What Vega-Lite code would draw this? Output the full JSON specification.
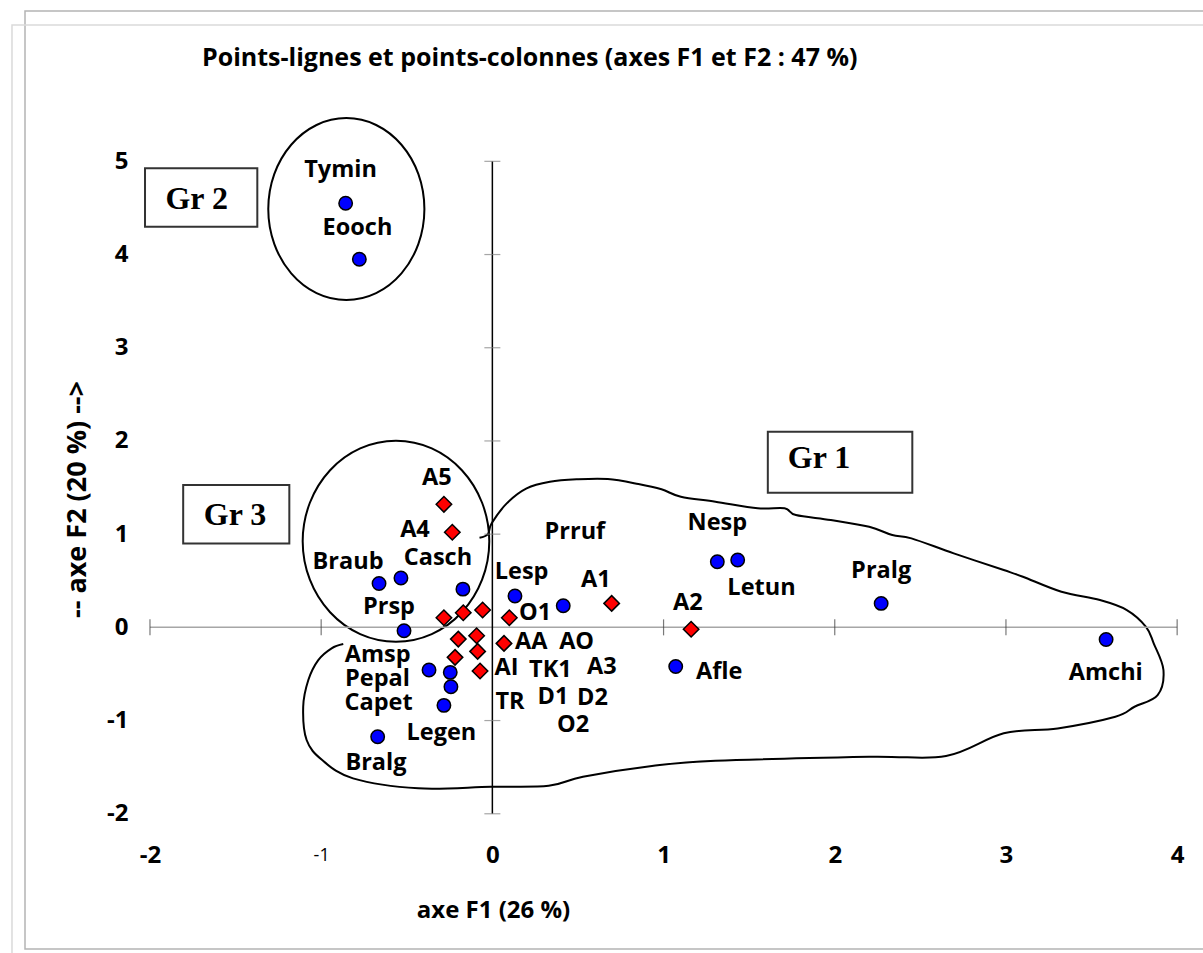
{
  "$schema": "https://vega.github.io/schema/vega-lite/v6.json",
  "width": 1178,
  "height": 938,
  "autosize": "none",
  "padding": {"left": 25, "top": 11, "right": 0, "bottom": 4},
  "background": "white",
  "title": {
    "text": "Points-lignes et points-colonnes (axes F1 et F2 : 47 %)",
    "anchor": "start",
    "frame": "group",
    "font": "Open Sans",
    "fontSize": 25,
    "fontWeight": "bold",
    "color": "black",
    "offset": 0,
    "baseline": "middle",
    "dx": 177,
    "dy": 73
  },
  "config": {"view": {"stroke": null}, "font": "Open Sans"},
  "datasets": {
    "frames": [
      {"f": "A", "x": -2.730, "x2": 4.6, "y": 6.613, "y2": -3.451},
      {"f": "B", "x": -2.806, "x2": 4.6, "y": 6.462, "y2": -4.3}
    ],
    "boxes": [
      {"g": "Gr 2", "x": -2.029, "x2": -1.373, "y": 4.925, "y2": 4.298, "tx": -1.727, "ty": 4.595},
      {"g": "Gr 3", "x": -1.806, "x2": -1.186, "y": 1.527, "y2": 0.901, "tx": -1.503, "ty": 1.204},
      {"g": "Gr 1", "x": 1.609, "x2": 2.453, "y": 2.099, "y2": 1.444, "tx": 1.908, "ty": 1.813}
    ],
    "ellipses": [
      {"grp": "Gr2", "i": 0, "x": -0.397, "y": 4.488},
      {"grp": "Gr2", "i": 1, "x": -0.432, "y": 4.862},
      {"grp": "Gr2", "i": 2, "x": -0.531, "y": 5.178},
      {"grp": "Gr2", "i": 3, "x": -0.679, "y": 5.390},
      {"grp": "Gr2", "i": 4, "x": -0.853, "y": 5.464},
      {"grp": "Gr2", "i": 5, "x": -1.027, "y": 5.390},
      {"grp": "Gr2", "i": 6, "x": -1.175, "y": 5.178},
      {"grp": "Gr2", "i": 7, "x": -1.274, "y": 4.862},
      {"grp": "Gr2", "i": 8, "x": -1.309, "y": 4.488},
      {"grp": "Gr2", "i": 9, "x": -1.274, "y": 4.114},
      {"grp": "Gr2", "i": 10, "x": -1.175, "y": 3.798},
      {"grp": "Gr2", "i": 11, "x": -1.027, "y": 3.586},
      {"grp": "Gr2", "i": 12, "x": -0.853, "y": 3.512},
      {"grp": "Gr2", "i": 13, "x": -0.679, "y": 3.586},
      {"grp": "Gr2", "i": 14, "x": -0.531, "y": 3.798},
      {"grp": "Gr2", "i": 15, "x": -0.432, "y": 4.114},
      {"grp": "Gr3", "i": 0, "x": -0.018, "y": 0.924},
      {"grp": "Gr3", "i": 1, "x": -0.060, "y": 1.337},
      {"grp": "Gr3", "i": 2, "x": -0.178, "y": 1.686},
      {"grp": "Gr3", "i": 3, "x": -0.354, "y": 1.920},
      {"grp": "Gr3", "i": 4, "x": -0.563, "y": 2.002},
      {"grp": "Gr3", "i": 5, "x": -0.772, "y": 1.920},
      {"grp": "Gr3", "i": 6, "x": -0.948, "y": 1.686},
      {"grp": "Gr3", "i": 7, "x": -1.066, "y": 1.337},
      {"grp": "Gr3", "i": 8, "x": -1.108, "y": 0.924},
      {"grp": "Gr3", "i": 9, "x": -1.066, "y": 0.511},
      {"grp": "Gr3", "i": 10, "x": -0.948, "y": 0.162},
      {"grp": "Gr3", "i": 11, "x": -0.772, "y": -0.072},
      {"grp": "Gr3", "i": 12, "x": -0.563, "y": -0.154},
      {"grp": "Gr3", "i": 13, "x": -0.354, "y": -0.072},
      {"grp": "Gr3", "i": 14, "x": -0.178, "y": 0.162},
      {"grp": "Gr3", "i": 15, "x": -0.060, "y": 0.511}
    ],
    "blob": [
      {"i": 0, "x": -0.075, "y": 0.961},
      {"i": 1, "x": -0.026, "y": 1.001},
      {"i": 2, "x": -0.004, "y": 1.116},
      {"i": 3, "x": 0.084, "y": 1.330},
      {"i": 4, "x": 0.200, "y": 1.491},
      {"i": 5, "x": 0.336, "y": 1.562},
      {"i": 6, "x": 0.492, "y": 1.588},
      {"i": 7, "x": 0.674, "y": 1.591},
      {"i": 8, "x": 0.853, "y": 1.538},
      {"i": 9, "x": 0.988, "y": 1.481},
      {"i": 10, "x": 1.101, "y": 1.401},
      {"i": 11, "x": 1.303, "y": 1.348},
      {"i": 12, "x": 1.550, "y": 1.277},
      {"i": 13, "x": 1.707, "y": 1.277},
      {"i": 14, "x": 1.773, "y": 1.205},
      {"i": 15, "x": 1.977, "y": 1.151},
      {"i": 16, "x": 2.201, "y": 1.079},
      {"i": 17, "x": 2.336, "y": 0.990},
      {"i": 18, "x": 2.448, "y": 0.955},
      {"i": 19, "x": 2.695, "y": 0.794},
      {"i": 20, "x": 2.987, "y": 0.615},
      {"i": 21, "x": 3.099, "y": 0.543},
      {"i": 22, "x": 3.324, "y": 0.382},
      {"i": 23, "x": 3.549, "y": 0.293},
      {"i": 24, "x": 3.706, "y": 0.186},
      {"i": 25, "x": 3.818, "y": 0.006},
      {"i": 26, "x": 3.863, "y": -0.172},
      {"i": 27, "x": 3.920, "y": -0.458},
      {"i": 28, "x": 3.886, "y": -0.726},
      {"i": 29, "x": 3.751, "y": -0.852},
      {"i": 30, "x": 3.639, "y": -0.959},
      {"i": 31, "x": 3.302, "y": -1.084},
      {"i": 32, "x": 2.987, "y": -1.137},
      {"i": 33, "x": 2.650, "y": -1.381},
      {"i": 34, "x": 2.201, "y": -1.388},
      {"i": 35, "x": 1.303, "y": -1.431},
      {"i": 36, "x": 0.932, "y": -1.488},
      {"i": 37, "x": 0.529, "y": -1.603},
      {"i": 38, "x": 0.329, "y": -1.700},
      {"i": 39, "x": -0.008, "y": -1.710},
      {"i": 40, "x": -0.433, "y": -1.727},
      {"i": 41, "x": -0.814, "y": -1.620},
      {"i": 42, "x": -0.994, "y": -1.424},
      {"i": 43, "x": -1.085, "y": -1.209},
      {"i": 44, "x": -1.105, "y": -0.852},
      {"i": 45, "x": -1.075, "y": -0.565},
      {"i": 46, "x": -1.017, "y": -0.351},
      {"i": 47, "x": -0.939, "y": -0.225},
      {"i": 48, "x": -0.871, "y": -0.179}
    ],
    "hline": [{"x": -2, "x2": 4, "y": 0}],
    "vline": [{"x": 0, "y": -2, "y2": 5}],
    "xticks": [
      {"x": -2, "y": 0}, {"x": -1, "y": 0}, {"x": 1, "y": 0},
      {"x": 2, "y": 0}, {"x": 3, "y": 0}, {"x": 4, "y": 0}
    ],
    "yticks": [
      {"x": 0, "y": -2}, {"x": 0, "y": -1}, {"x": 0, "y": 1}, {"x": 0, "y": 2},
      {"x": 0, "y": 3}, {"x": 0, "y": 4}, {"x": 0, "y": 5}
    ],
    "pts": [
      {"t": "col", "x": -0.857, "y": 4.55},
      {"t": "col", "x": -0.777, "y": 3.95},
      {"t": "col", "x": -0.662, "y": 0.47},
      {"t": "col", "x": -0.534, "y": 0.53},
      {"t": "col", "x": -0.172, "y": 0.41},
      {"t": "col", "x": 0.132, "y": 0.336},
      {"t": "col", "x": 0.414, "y": 0.232},
      {"t": "col", "x": -0.516, "y": -0.036},
      {"t": "col", "x": -0.370, "y": -0.458},
      {"t": "col", "x": -0.246, "y": -0.483},
      {"t": "col", "x": -0.242, "y": -0.637},
      {"t": "col", "x": -0.283, "y": -0.837},
      {"t": "col", "x": -0.670, "y": -1.174},
      {"t": "col", "x": 1.314, "y": 0.704},
      {"t": "col", "x": 1.433, "y": 0.722},
      {"t": "col", "x": 1.071, "y": -0.42},
      {"t": "col", "x": 2.271, "y": 0.257},
      {"t": "col", "x": 3.585, "y": -0.13},
      {"t": "row", "x": -0.283, "y": 1.32},
      {"t": "row", "x": -0.234, "y": 1.02},
      {"t": "row", "x": -0.283, "y": 0.103},
      {"t": "row", "x": -0.170, "y": 0.157},
      {"t": "row", "x": -0.057, "y": 0.186},
      {"t": "row", "x": 0.099, "y": 0.103},
      {"t": "row", "x": 0.697, "y": 0.257},
      {"t": "row", "x": -0.199, "y": -0.126},
      {"t": "row", "x": -0.092, "y": -0.09},
      {"t": "row", "x": 0.068, "y": -0.172},
      {"t": "row", "x": -0.086, "y": -0.258},
      {"t": "row", "x": -0.218, "y": -0.322},
      {"t": "row", "x": -0.072, "y": -0.469},
      {"t": "row", "x": 1.161, "y": -0.02}
    ],
    "labels": [
      {"label": "Tymin", "x": -0.887, "y": 4.91},
      {"label": "Eooch", "x": -0.788, "y": 4.28},
      {"label": "A5", "x": -0.324, "y": 1.60},
      {"label": "A4", "x": -0.452, "y": 1.044},
      {"label": "Braub", "x": -0.843, "y": 0.697},
      {"label": "Casch", "x": -0.318, "y": 0.74},
      {"label": "Prsp", "x": -0.604, "y": 0.221},
      {"label": "Prruf", "x": 0.482, "y": 1.026},
      {"label": "Lesp", "x": 0.171, "y": 0.597},
      {"label": "A1", "x": 0.605, "y": 0.507},
      {"label": "O1", "x": 0.249, "y": 0.150},
      {"label": "AA", "x": 0.227, "y": -0.154},
      {"label": "AO", "x": 0.492, "y": -0.154},
      {"label": "AI", "x": 0.083, "y": -0.44},
      {"label": "TK1", "x": 0.339, "y": -0.458},
      {"label": "A3", "x": 0.640, "y": -0.422},
      {"label": "TR", "x": 0.103, "y": -0.798},
      {"label": "D1", "x": 0.354, "y": -0.744},
      {"label": "D2", "x": 0.585, "y": -0.762},
      {"label": "O2", "x": 0.471, "y": -1.048},
      {"label": "Amsp", "x": -0.670, "y": -0.297},
      {"label": "Pepal", "x": -0.671, "y": -0.558},
      {"label": "Capet", "x": -0.665, "y": -0.815},
      {"label": "Legen", "x": -0.298, "y": -1.137},
      {"label": "Bralg", "x": -0.680, "y": -1.459},
      {"label": "Nesp", "x": 1.314, "y": 1.116},
      {"label": "Letun", "x": 1.572, "y": 0.418},
      {"label": "A2", "x": 1.142, "y": 0.264},
      {"label": "Pralg", "x": 2.271, "y": 0.604},
      {"label": "Afle", "x": 1.325, "y": -0.476},
      {"label": "Amchi", "x": 3.583, "y": -0.487}
    ]
  },
  "encoding": {
    "x": {
      "field": "x",
      "type": "quantitative",
      "scale": {"domain": [-2.730, 4.151], "nice": false, "zero": false},
      "axis": {
        "values": [-2, -1, 0, 1, 2, 3, 4],
        "domain": false,
        "ticks": false,
        "tickSize": 0,
        "grid": false,
        "labelExpr": "'' + datum.value",
        "labelFont": "Open Sans",
        "labelFontSize": {"condition": {"test": "datum.value == -1", "value": 18}, "value": 24},
        "labelFontWeight": {"condition": {"test": "datum.value == -1", "value": "normal"}, "value": "bold"},
        "labelColor": "black",
        "labelBaseline": "middle",
        "labelPadding": 0,
        "labelFlush": false,
        "labelOverlap": false,
        "offset": -94,
        "title": "axe F1 (26 %)",
        "titleFont": "Open Sans",
        "titleFontSize": 24,
        "titleFontWeight": "bold",
        "titleColor": "black",
        "titleX": 468,
        "titleY": 55,
        "titleBaseline": "middle",
        "titleAlign": "center"
      }
    },
    "y": {
      "field": "y",
      "type": "quantitative",
      "scale": {"domain": [-3.451, 6.613], "nice": false, "zero": false},
      "axis": {
        "values": [-2, -1, 0, 1, 2, 3, 4, 5],
        "domain": false,
        "ticks": false,
        "tickSize": 0,
        "grid": false,
        "labelExpr": "'' + datum.value",
        "labelFont": "Open Sans",
        "labelFontSize": 24,
        "labelFontWeight": "bold",
        "labelColor": "black",
        "labelAlign": "right",
        "labelBaseline": "middle",
        "labelPadding": 2,
        "labelFlush": false,
        "labelOverlap": false,
        "offset": -105,
        "title": "-- axe F2 (20 %) -->",
        "titleFont": "Open Sans",
        "titleFontSize": 27,
        "titleFontWeight": "bold",
        "titleColor": "black",
        "titleX": -53,
        "titleY": 488,
        "titleAngle": 270,
        "titleBaseline": "middle",
        "titleAlign": "center"
      }
    }
  },
  "layer": [
    {
      "data": {"name": "frames"},
      "mark": {"type": "rect", "fill": null, "strokeWidth": 1.5},
      "encoding": {
        "x2": {"field": "x2"},
        "y2": {"field": "y2"},
        "stroke": {"field": "f", "type": "nominal", "scale": {"domain": ["A", "B"], "range": ["#b4b4b4", "#dadada"]}, "legend": null}
      }
    },
    {
      "data": {"name": "ellipses"},
      "mark": {"type": "line", "interpolate": "cardinal-closed", "color": "black", "strokeWidth": 2},
      "encoding": {
        "detail": {"field": "grp"},
        "order": {"field": "i", "type": "quantitative"}
      }
    },
    {
      "data": {"name": "blob"},
      "mark": {"type": "line", "interpolate": "cardinal", "color": "black", "strokeWidth": 2},
      "encoding": {
        "order": {"field": "i", "type": "quantitative"}
      }
    },
    {
      "data": {"name": "hline"},
      "mark": {"type": "rule", "color": "#a6a6a6", "strokeWidth": 1.5},
      "encoding": {"x2": {"field": "x2"}}
    },
    {
      "data": {"name": "vline"},
      "mark": {"type": "rule", "color": "black", "strokeWidth": 1.5},
      "encoding": {"y2": {"field": "y2"}}
    },
    {
      "data": {"name": "xticks"},
      "mark": {"type": "tick", "orient": "vertical", "size": 16, "thickness": 1.2, "color": "#404040"}
    },
    {
      "data": {"name": "yticks"},
      "mark": {"type": "tick", "orient": "horizontal", "size": 16, "thickness": 1.2, "color": "#808080"}
    },
    {
      "data": {"name": "boxes"},
      "mark": {"type": "rect", "fill": "white", "stroke": "#333333", "strokeWidth": 2},
      "encoding": {
        "x2": {"field": "x2"},
        "y2": {"field": "y2"}
      }
    },
    {
      "data": {"name": "boxes"},
      "mark": {"type": "text", "font": "Liberation Serif", "fontSize": 32, "fontWeight": "bold", "color": "black", "align": "center", "baseline": "middle"},
      "encoding": {
        "x": {"field": "tx", "type": "quantitative"},
        "y": {"field": "ty", "type": "quantitative"},
        "text": {"field": "g"}
      }
    },
    {
      "data": {"name": "pts"},
      "transform": [{"filter": "datum.t == 'col'"}],
      "mark": {"type": "point", "shape": "circle", "filled": true, "fill": "#0000ff", "stroke": "black", "strokeWidth": 1.5, "size": 180, "opacity": 1}
    },
    {
      "data": {"name": "pts"},
      "transform": [{"filter": "datum.t == 'row'"}],
      "mark": {"type": "point", "shape": "diamond", "filled": true, "fill": "#ff0000", "stroke": "black", "strokeWidth": 1.5, "size": 240, "opacity": 1}
    },
    {
      "data": {"name": "labels"},
      "mark": {"type": "text", "font": "Open Sans", "fontSize": 23.5, "fontWeight": "bold", "color": "black", "align": "center", "baseline": "middle"},
      "encoding": {"text": {"field": "label"}}
    }
  ]
}
